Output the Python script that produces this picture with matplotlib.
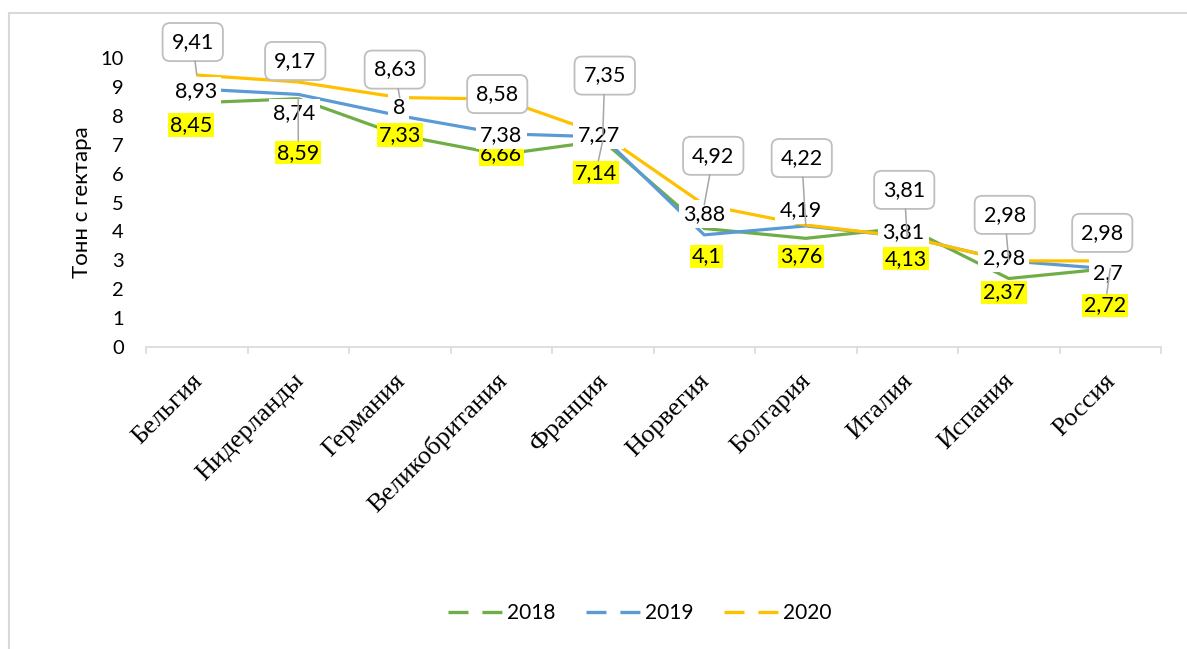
import matplotlib
matplotlib.use("Agg")
import matplotlib.pyplot as plt
from matplotlib.lines import Line2D
from matplotlib.ticker import FixedLocator, NullFormatter, FixedFormatter
import matplotlib.transforms as mtrans

# ---------------- data ----------------
countries = ["Бельгия", "Нидерланды", "Германия", "Великобритания", "Франция",
             "Норвегия", "Болгария", "Италия", "Испания", "Россия"]
years = ["2018", "2019", "2020"]
y2018 = [8.45, 8.59, 7.33, 6.66, 7.14, 4.1, 3.76, 4.13, 2.37, 2.72]
y2019 = [8.93, 8.74, 8.0, 7.38, 7.27, 3.88, 4.19, 3.81, 2.98, 2.7]
y2020 = [9.41, 9.17, 8.63, 8.58, 7.35, 4.92, 4.22, 3.81, 2.98, 2.98]
y_ticks = list(range(0, 11))
y_label = "Тонн с гектара"

# ---------------- layout / style ----------------
W, H = 1187, 649
colors = ["#70AD47", "#5B9BD5", "#FFC000"]
SANS = ["Lato", "Open Sans", "DejaVu Sans"]
SERIF = ["Liberation Serif", "DejaVu Serif"]
LBL_FS = 15.5

# label offsets in pixels (dx, dy) relative to each point
off2018 = [(-6, -22), (0, -54), (0, 0), (0, 0), (-7, -32),
           (2, -28), (-5, -18), (-1, -31), (-5, -14), (-5, -37)]
off2019 = [(-1, -2), (-4, -19), (-1, 8), (0, -1), (-4, 2),
           (0, 21), (-5, 16), (-4, 5), (-5, 3), (-2, -4)]
off2020 = [(-4, 33), (-3, 21), (-5, 28), (-4, 5), (2, 59),
           (9, 49), (-4, 67), (-3, 47), (-4, 46), (-8, 28)]
lead2018 = [False, True, False, False, True, False, False, False, False, True]
lead2019 = [False] * 10
lead2020 = [True, False, True, False, True, True, True, True, True, False]

plt.rcParams["lines.scale_dashes"] = False

fig = plt.figure(figsize=(W / 100, H / 100), dpi=100)
ax = fig.add_axes([146 / W, 1 - 347 / H, (1161 - 146) / W, (347 - 58) / H])
ax.set_xlim(0, len(countries))
ax.set_ylim(0, 10)

xs = [i + 0.5 for i in range(len(countries))]
series = [y2018, y2019, y2020]
for vals, c in zip(series, colors):
    ax.plot(xs, vals, color=c, lw=2.3, solid_capstyle="butt", zorder=2)

# axes styling
for s in ["left", "right", "top"]:
    ax.spines[s].set_visible(False)
ax.spines["bottom"].set_color("#D9D9D9")
ax.spines["bottom"].set_linewidth(1.2)
ax.xaxis.set_major_locator(FixedLocator(list(range(len(countries) + 1))))
ax.xaxis.set_major_formatter(NullFormatter())
ax.xaxis.set_minor_locator(FixedLocator(xs))
ax.xaxis.set_minor_formatter(FixedFormatter(countries))
ax.tick_params(axis="x", which="major", direction="out", length=5, width=1.2, color="#D9D9D9")
ax.tick_params(axis="x", which="minor", length=0, pad=22)
for t in ax.xaxis.get_minorticklabels():
    t.set_rotation(45)
    t.set_rotation_mode("anchor")
    t.set_ha("right")
    t.set_va("center")
    t.set_fontfamily(SERIF)
    t.set_fontsize(19)
    t.set_transform(t.get_transform() + mtrans.ScaledTranslation(2 / 100, 0, fig.dpi_scale_trans))

ax.set_yticks(y_ticks)
ax.set_yticklabels([str(v) for v in y_ticks], fontfamily=SANS, fontsize=14.5)
ax.tick_params(axis="y", length=0, pad=16)
ax.set_ylabel(y_label, fontfamily=SANS, fontsize=16, labelpad=6)

def fmt(v):
    return f"{v:g}".replace(".", ",")

def put(x, v, dx, dy, bbox, z, leader):
    ax.annotate(fmt(v), (x, v), xytext=(dx, dy), textcoords="offset pixels",
                ha="center", va="center", fontsize=LBL_FS, fontfamily=SANS,
                color="black", bbox=bbox, zorder=z, annotation_clip=False)
    if leader:
        bb = dict(bbox)
        bb["fc"] = "none"
        bb["ec"] = "none"
        ax.annotate(fmt(v), (x, v), xytext=(dx, dy), textcoords="offset pixels",
                    ha="center", va="center", fontsize=LBL_FS, fontfamily=SANS,
                    color="none", bbox=bb, zorder=8, annotation_clip=False,
                    arrowprops=dict(arrowstyle="-", color="#A6A6A6", lw=1.1,
                                    shrinkA=0, shrinkB=0))

bb2018 = dict(boxstyle="square,pad=0.08", fc="#FFFF00", ec="none")
bb2019 = dict(boxstyle="square,pad=0.2", fc="white", ec="none")
bb2020 = dict(boxstyle="round,pad=0.42,rounding_size=0.35", fc="white", ec="#BFBFBF", lw=1.3)

for i, x in enumerate(xs):
    put(x, y2018[i], *off2018[i], bb2018, 3, lead2018[i])
for i, x in enumerate(xs):
    put(x, y2019[i], *off2019[i], bb2019, 4, lead2019[i])
for i, x in enumerate(xs):
    put(x, y2020[i], *off2020[i], bb2020, 5, lead2020[i])

# legend
handles = [Line2D([], [], color=c, lw=2.4, dashes=(14.4, 10), dash_capstyle="butt")
           for c in colors]
fig.legend(handles, years, loc="center", bbox_to_anchor=(640 / W, 1 - 613 / H),
           ncol=3, frameon=False, prop={"family": SANS, "size": 15},
           handlelength=2.6, handletextpad=0.25, columnspacing=1.45)

# chart border (top and left visible)
fig.add_artist(Line2D([9 / W, 9 / W], [0, 1 - 13 / H], transform=fig.transFigure,
                      color="#D9D9D9", lw=1.5))
fig.add_artist(Line2D([9 / W, 1], [1 - 13 / H, 1 - 13 / H], transform=fig.transFigure,
                      color="#D9D9D9", lw=1.5))

fig.savefig("out.png", dpi=100)
